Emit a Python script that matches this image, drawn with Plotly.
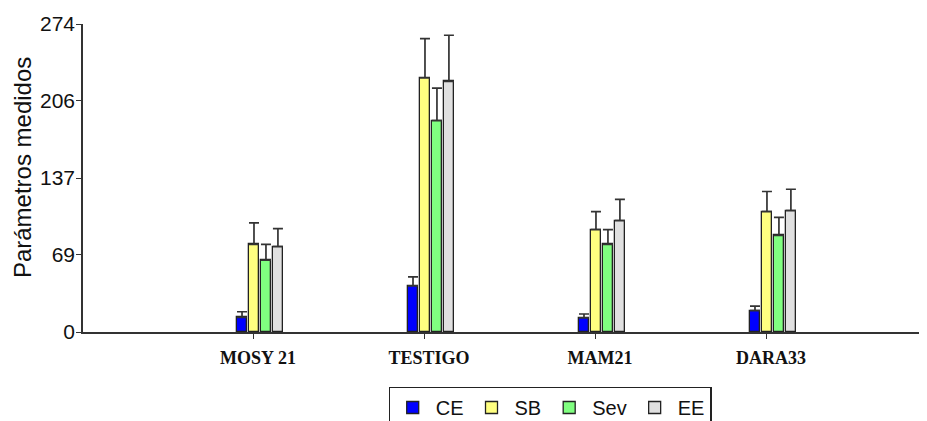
import plotly.graph_objects as go

categories = ["MOSY 21", "TESTIGO", "MAM21", "DARA33"]
series_names = ["CE", "SB", "Sev", "EE"]
values = {
    "CE":  [13, 41, 12.5, 19],
    "SB":  [78, 226, 91, 107],
    "Sev": [64, 188, 78, 86],
    "EE":  [76, 223, 99, 108],
}
errors = {
    "CE":  [5, 8, 3.5, 4],
    "SB":  [19, 35, 16, 18],
    "Sev": [14, 29, 13, 16],
    "EE":  [16, 41, 19, 19],
}
colors = {"CE": "#0000FF", "SB": "#FFFF80", "Sev": "#80FF80", "EE": "#E0E0E0"}
offsets = {"CE": -0.070, "SB": 0.0, "Sev": 0.070, "EE": 0.140}
y_ticks = [0, 69, 137, 206, 274]
y_title = "Parámetros medidos"

fig = go.Figure()
for s in series_names:
    xs = [i + offsets[s] for i in range(len(categories))]
    fig.add_trace(go.Bar(
        x=xs, y=values[s], name=s, width=0.062,
        marker=dict(color=colors[s], line=dict(color="#222222", width=1.3)),
        error_y=dict(type="data", array=errors[s], arrayminus=[0]*4, symmetric=False,
                     color="#333333", thickness=1.7, width=5),
    ))

# page body has an 8px margin, so the figure is sized to fit the window from (8, 8)
fig.update_layout(
    width=919, height=413,
    margin=dict(l=75, r=7, t=16, b=89, autoexpand=False),
    plot_bgcolor="white", paper_bgcolor="white",
    barmode="overlay", bargap=0,
    font=dict(family="Liberation Sans, Arial", size=20, color="#111111"),
    showlegend=True,
    legend=dict(orientation="h", x=0.365, xanchor="left", y=-0.178, yanchor="top",
                bordercolor="#222222", borderwidth=1.2, font=dict(size=20),
                traceorder="normal", itemwidth=36, tracegroupgap=0),
    annotations=[dict(text=y_title, textangle=-90, xref="paper", yref="paper",
                      x=-0.073, y=0.535, xanchor="center", yanchor="middle",
                      showarrow=False, font=dict(size=24, color="#111111"))],
)
fig.update_xaxes(
    range=[-1.0, 3.895], tickvals=list(range(len(categories))),
    ticktext=["<b>%s</b>" % c for c in categories],
    showline=True, linecolor="#333333", linewidth=1.5, showgrid=False, zeroline=False,
    ticks="outside", ticklen=5, tickcolor="#333333", ticklabelstandoff=4,
    ticklabelshift=4,
    tickfont=dict(family="Liberation Serif, Times New Roman", size=18, color="#111111"),
)
fig.update_yaxes(
    range=[0, 274], tickvals=y_ticks, showline=True, linecolor="#333333", linewidth=1.5,
    showgrid=False, zeroline=False, ticks="outside", ticklen=5, tickcolor="#333333",
    ticklabelstandoff=-3, tickfont=dict(size=21),
)
fig.write_html("out.html")
